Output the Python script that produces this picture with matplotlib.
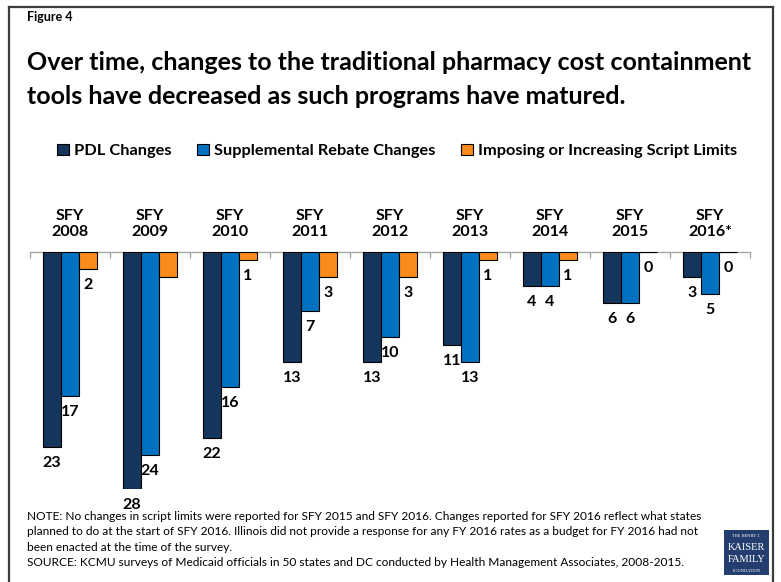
import matplotlib
matplotlib.use('Agg')
import matplotlib.pyplot as plt
from matplotlib.patches import Rectangle, Patch
from matplotlib.lines import Line2D
import numpy as np

plt.rcParams['font.family'] = ['Lato', 'DejaVu Sans']

# data
years = ['SFY\n2008', 'SFY\n2009', 'SFY\n2010', 'SFY\n2011', 'SFY\n2012',
         'SFY\n2013', 'SFY\n2014', 'SFY\n2015', 'SFY\n2016*']
pdl = [23, 28, 22, 13, 13, 11, 4, 6, 3]
rebate = [17, 24, 16, 7, 10, 13, 4, 6, 5]
script = [2, 3, 1, 3, 3, 1, 1, 0, 0]
script_labels = ['2', None, '1', '3', '3', '1', '1', '0', '0']

series_names = ['PDL Changes', 'Supplemental Rebate Changes',
                'Imposing or Increasing Script Limits']
colors = ['#14365D', '#0070C0', '#F98C1D']

W, H = 781, 582
fig = plt.figure(figsize=(W / 100, H / 100), dpi=100)

def fx(px):
    return px / W

def fy(py):
    return 1 - py / H

# outer frame (top, left, right)
for xs, ys in [((9, 773), (7, 7)), ((9, 9), (7, 590)), ((773, 773), (7, 590))]:
    fig.add_artist(Line2D([fx(xs[0]), fx(xs[1])], [fy(ys[0]), fy(ys[1])],
                          color='#3c3c3c', lw=1.6))

fig.text(fx(27), fy(17), 'Figure 4', fontsize=9, fontweight='bold', va='center')
fig.text(fx(27), fy(62), 'Over time, changes to the traditional pharmacy cost containment',
         fontsize=18, fontweight='bold', va='center')
fig.text(fx(27), fy(96), 'tools have decreased as such programs have matured.',
         fontsize=18, fontweight='bold', va='center')

# axes: baseline at y=252, 237 px for 28 units
top, bottom = 252, 489
ax = fig.add_axes([fx(30), fy(bottom), fx(750) - fx(30), (bottom - top) / H])
x = np.arange(len(years))
w = 0.225
vals = [pdl, rebate, script]
labels = [[str(v) for v in pdl], [str(v) for v in rebate], script_labels]
for k in range(3):
    xs = x + (k - 1) * w
    ax.bar(xs, [-v for v in vals[k]], width=w, color=colors[k],
           edgecolor='black', linewidth=0.8, zorder=3)
    for xi, v, lab in zip(xs, vals[k], labels[k]):
        if lab is None:
            continue
        ax.annotate(lab, (xi, -v), xytext=(0, -11.5), textcoords='offset points',
                    ha='center', va='center', fontsize=11.5, fontweight='bold')

ax.set_xlim(-0.5, len(years) - 0.5)
ax.set_ylim(-28, 0)
for s in ['left', 'right', 'bottom']:
    ax.spines[s].set_visible(False)
ax.spines['top'].set_color('#a6a6a6')
ax.spines['top'].set_linewidth(1)
ax.set_yticks([])
ax.xaxis.set_ticks_position('top')
ax.set_xticks(np.arange(-0.5, len(years)))
ax.set_xticklabels([])
ax.tick_params(axis='x', direction='in', length=4, color='#a6a6a6', width=1)
ax.patch.set_alpha(0)

for xi, lab in zip(x, years):
    ax.annotate(lab, (xi, 0), xytext=(0, 9), textcoords='offset points',
                ha='center', va='bottom', fontsize=11.5, fontweight='bold',
                linespacing=1.25, annotation_clip=False)

handles = [Patch(facecolor=c, edgecolor='black', linewidth=0.8) for c in colors]
fig.legend(handles, series_names, loc='center', bbox_to_anchor=(fx(397), fy(151)),
           ncol=3, frameon=False, handlelength=0.7, handleheight=0.7,
           handletextpad=0.3, columnspacing=1.6,
           prop={'weight': 'bold', 'size': 11.8})

note = ('NOTE: No changes in script limits were reported for SFY 2015 and SFY 2016. Changes reported for SFY 2016 reflect what states\n'
        'planned to do at the start of SFY 2016. Illinois did not provide a response for any FY 2016 rates as a budget for FY 2016 had not\n'
        'been enacted at the time of the survey.\n'
        'SOURCE: KCMU surveys of Medicaid officials in 50 states and DC conducted by Health Management Associates, 2008-2015.')
fig.text(fx(27), fy(511), note, fontsize=8.6, va='top', linespacing=1.48)

# logo
fig.add_artist(Rectangle((fx(724), fy(575)), fx(769) - fx(724), (575 - 530) / H,
                         facecolor='#233E6E', edgecolor='none'))
logo = [('THE HENRY J.', 536, 3.2), ('KAISER', 548, 7.5),
        ('FAMILY', 560, 7.5), ('FOUNDATION', 571, 3.2)]
for t, yy, fs in logo:
    fig.text(fx(746.5), fy(yy), t, color='white', fontsize=fs, ha='center',
             va='center', family='Liberation Serif')

fig.savefig('out.png', dpi=100)
